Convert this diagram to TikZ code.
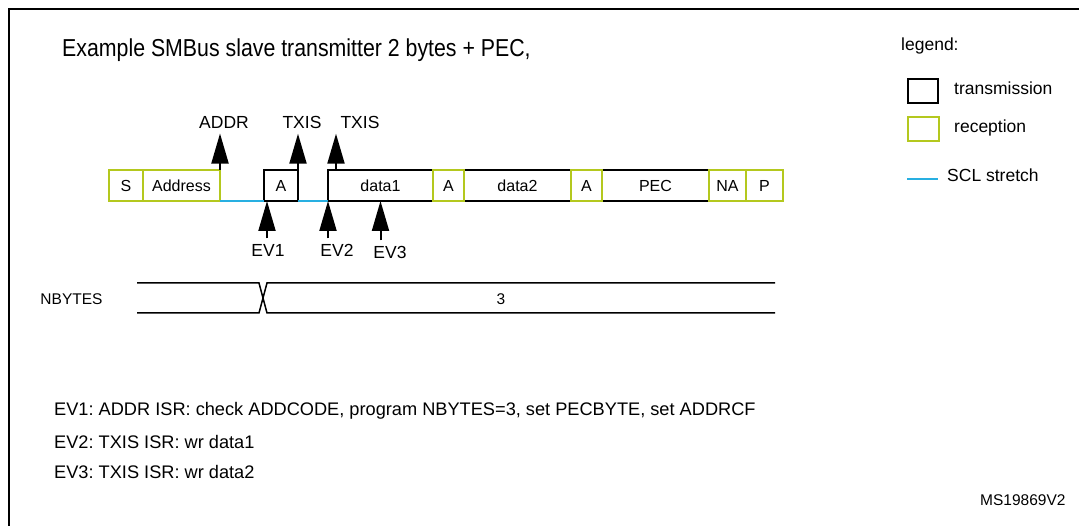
\documentclass[tikz,border=0pt]{standalone}
\usepackage{fontspec}
\setmainfont{Liberation Sans}
\newfontfamily\titlefont[FakeStretch=0.87]{Liberation Sans}
\usetikzlibrary{arrows.meta}
\definecolor{rxgreen}{RGB}{180,200,30}
\definecolor{sclblue}{RGB}{40,175,225}
\tikzset{
  fs/.style={font=\fontsize{#1}{#1}\selectfont\frenchspacing},
  txbox/.style={draw=black, line width=1.5, minimum height=31, inner sep=0, outer sep=0, fs=16},
  rxbox/.style={draw=rxgreen, line width=2.4, minimum height=31, inner sep=0, outer sep=0, fs=16},
  scl/.style={draw=sclblue, line width=1.5},
  evtip/.style={line width=2, -{Triangle[width=17pt,length=30pt]}},
  lbl/.style={inner sep=0, outer sep=5.5, fs=17.5},
  txt/.style={inner sep=0, anchor=base west, fs=18.2},
  bus/.style={line width=1.5},
}
\begin{document}
\begin{tikzpicture}[x=1pt,y=-1pt]
\useasboundingbox (0,0) rectangle (1079,526);
\fill[white] (0,0) rectangle (1079,526);
% frame
\coordinate (fbl) at (9,526);
\coordinate (ftl) at (9,9);
\coordinate (ftr) at (1079,9);
\draw[line width=2] (fbl) -- (ftl) -- (ftr);

% title
\node[inner sep=0, anchor=base west, font=\titlefont\fontsize{24.5}{24.5}\selectfont] (title) at (62,57) {Example SMBus slave transmitter 2 bytes + PEC,};

% transmission (black) boxes
\node[txbox, minimum width=34]  (A1)    at (281,185.5)   {A};
\node[txbox, minimum width=105] (data1) at (380.5,185.5) {data1};
\node[txbox, minimum width=107] (data2) at (517.5,185.5) {data2};
\node[txbox, minimum width=107] (PEC)   at (655.5,185.5) {PEC};
% reception (green) boxes
\node[rxbox, minimum width=34] (S)    at (126,185.5)   {S};
\node[rxbox, minimum width=77] (Addr) at (181.5,185.5) {Address};
\node[rxbox, minimum width=31] (A2)   at (448.5,185.5) {A};
\node[rxbox, minimum width=31] (A3)   at (586.5,185.5) {A};
\node[rxbox, minimum width=37] (NA)   at (727.5,185.5) {NA};
\node[rxbox, minimum width=37] (P)    at (764.5,185.5) {P};

% SCL stretch
\draw[scl] (Addr.south east) -- (A1.south west);
\draw[scl] (A1.south east) -- (data1.south west);

% upper labels and arrows
\node[lbl] (ADDR)  at (224,122) {ADDR};
\node[lbl] (TXISa) at (302,122) {TXIS};
\node[lbl] (TXISb) at (360,122) {TXIS};
\coordinate (t2) at ([xshift=8]data1.north west);
\draw[evtip] (Addr.north east) -- (Addr.north east |- ADDR.south);
\draw[evtip] (A1.north east) -- (A1.north east |- TXISa.south);
\draw[evtip] (t2) -- (t2 |- TXISb.south);

% lower labels and arrows
\node[lbl] (EV1) at (268,250) {EV1};
\node[lbl] (EV2) at (337,250) {EV2};
\node[lbl] (EV3) at (390,252) {EV3};
\coordinate (e1) at ([xshift=3]A1.south west);
\coordinate (e2) at (data1.south west);
\coordinate (e3) at (data1.south);
\draw[evtip] (e1 |- EV1.north) -- (e1);
\draw[evtip] (e2 |- EV2.north) -- (e2);
\draw[evtip] (e3 |- EV3.north) -- (e3);

% NBYTES bus
\node[inner sep=0, fs=15.5] (nb) at (71.5,299) {NBYTES};
\node[inner sep=0, fs=15.5] (three) at (501,299) {3};
\coordinate (b1) at (137,283);
\coordinate (b2) at (259,283);
\coordinate (b3) at (267,283);
\coordinate (b4) at (775,283);
\coordinate (c1) at (137,313);
\coordinate (c2) at (259,313);
\coordinate (c3) at (267,313);
\coordinate (c4) at (775,313);
\draw[bus] (b1) -- (b2) -- (c3) -- (c4);
\draw[bus] (c1) -- (c2) -- (b3) -- (b4);

% legend
\node[txt, fs=17.5] (leg) at (901,51) {legend:};
\node[draw=black, line width=2, minimum width=30, minimum height=24, inner sep=0, outer sep=0] (ltx) at (923,91) {};
\node[draw=rxgreen, line width=2.6, minimum width=31, minimum height=24, inner sep=0, outer sep=0] (lrx) at (923.5,129) {};
\node[txt, fs=17.5] (ltxt) at (954,95) {transmission};
\node[txt, fs=17.5] (lrxt) at (954,133) {reception};
\coordinate (s1) at (907,179);
\coordinate (s2) at (938,179);
\draw[scl] (s1) -- (s2);
\node[txt, fs=17.5] (lsclt) at (947,182) {SCL stretch};

% notes
\node[txt] (n1) at (54,416) {EV1: ADDR ISR: check ADDCODE, program NBYTES=3, set PECBYTE, set ADDRCF};
\node[txt] (n2) at (54,448) {EV2: TXIS ISR: wr data1};
\node[txt] (n3) at (54,478) {EV3: TXIS ISR: wr data2};
\node[txt, fs=15.5] (ms) at (980,505) {MS19869V2};
\end{tikzpicture}
\end{document}
